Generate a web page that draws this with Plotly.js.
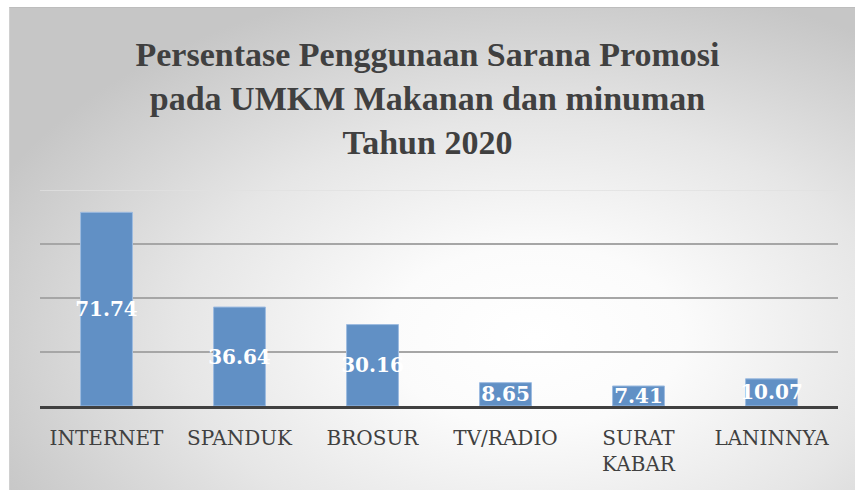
<!DOCTYPE html>
<html>
<head>
<meta charset="utf-8">
<script src="https://cdn.plot.ly/plotly-3.0.1.min.js"></script>
<style>
  html, body { margin: 0; padding: 0; background: #ffffff; }
  #frame {
    position: absolute; left: 9px; top: 7px; width: 846px; height: 483px;
    background: radial-gradient(ellipse 70% 75% at 62% 68%, #ffffff 0%, #fbfbfb 25%, #e6e6e6 60%, #c6c6c6 100%);
    border-top: 1px solid #bdbdbd; border-left: 1px solid #d0d0d0;
  }
  #chart { position: absolute; left: 0; top: 0; width: 855px; height: 490px; }
</style>
</head>
<body>
<div id="frame"></div>
<div id="chart"></div>
<script>
const categories = ["INTERNET", "SPANDUK", "BROSUR", "TV/RADIO", "SURAT<br>KABAR", "LANINNYA"];
const values = [71.74, 36.64, 30.16, 8.65, 7.41, 10.07];
const valueLabels = ["71.74", "36.64", "30.16", "8.65", "7.41", "10.07"];
const gridTicks = [20, 40, 60];
const yMax = 80;

const trace = {
  type: "bar",
  x: categories,
  y: values,
  text: valueLabels,
  textposition: "inside",
  insidetextanchor: "middle",
  textangle: 0,
  constraintext: "none",
  cliponaxis: false,
  textfont: { family: "DejaVu Serif", size: 20, color: "#ffffff", weight: "bold" },
  marker: { color: "#6190c5", line: { color: "#9dbbe0", width: 1 } },
  hoverinfo: "none"
};

const layout = {
  width: 855, height: 490,
  paper_bgcolor: "rgba(0,0,0,0)",
  plot_bgcolor: "rgba(0,0,0,0)",
  margin: { l: 40, r: 17, t: 190, b: 84 },
  showlegend: false,
  bargap: 0.61,
  title: {
    text: "Persentase Penggunaan Sarana Promosi<br>pada UMKM Makanan dan minuman<br>Tahun 2020",
    font: { family: "Liberation Serif, Times New Roman, serif", size: 34, color: "#404040", weight: "bold" },
    x: 0.5, xanchor: "center",
    y: 0.866, yanchor: "top", yref: "container"
  },
  xaxis: {
    type: "category",
    showline: true, linecolor: "#404040", linewidth: 3,
    showgrid: false, ticks: "",
    tickfont: { family: "DejaVu Serif", size: 20, color: "#404040" },
    ticklabelstandoff: 12
  },
  yaxis: {
    range: [0, yMax],
    tickvals: gridTicks,
    showticklabels: false,
    showgrid: true, gridcolor: "#a6a6a6", gridwidth: 1.5,
    zeroline: false, showline: false
  },
  shapes: [{
    type: "line", xref: "paper", yref: "y", x0: 0, x1: 1, y0: yMax, y1: yMax,
    line: { color: "#e0e0e0", width: 1.5 }, layer: "below"
  }]
};

Plotly.newPlot("chart", [trace], layout, { displayModeBar: false, staticPlot: true });
</script>
</body>
</html>
